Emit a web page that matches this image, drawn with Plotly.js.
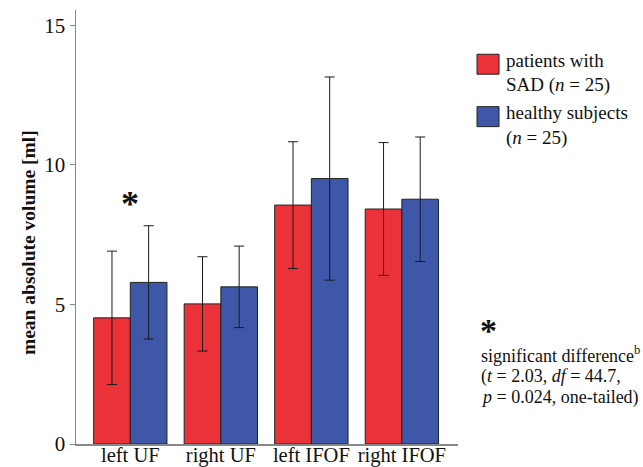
<!DOCTYPE html>
<html>
<head>
<meta charset="utf-8">
<script src="https://cdn.plot.ly/plotly-3.0.1.min.js"></script>
<style>html,body{margin:0;padding:0;background:#fff;}#chart{width:643px;height:467px;}</style>
</head>
<body>
<div id="chart"></div>
<script>
const categories = ["left UF", "right UF", "left IFOF", "right IFOF"];
const sadMeans = [4.52, 5.02, 8.56, 8.42];
const sadSD = [2.39, 1.69, 2.27, 2.38];
const healthyMeans = [5.79, 5.63, 9.51, 8.77];
const healthySD = [2.03, 1.46, 3.64, 2.23];
const seriesNames = ["patients with<br>SAD (<i>n</i> = 25)", "healthy subjects<br>(<i>n</i> = 25)"];
const yTicks = [0, 5, 10, 15];
const yTitle = "<b>mean absolute volume [ml]</b>";
const noteLines = ["significant difference<sup>b</sup>", "(<i>t</i> = 2.03, <i>df</i> = 44.7,", "<i>p</i> = 0.024, one-tailed)"];

const serif = "Liberation Serif";
const errStyle = {type: "data", visible: true, color: "#1a1a1a", thickness: 1, width: 5};

const traces = [
  {type: "bar", name: seriesNames[0], x: categories, y: sadMeans,
   error_y: Object.assign({array: sadSD}, errStyle),
   marker: {color: "#ec3239", line: {color: "#222", width: 1}}},
  {type: "bar", name: seriesNames[1], x: categories, y: healthyMeans,
   error_y: Object.assign({array: healthySD}, errStyle),
   marker: {color: "#3e57a8", line: {color: "#222", width: 1}}}
];

const PH = 433;
const annotations = [
  {xref: "paper", yref: "paper", x: (27 - 76) / 390, y: (444 - 243.5) / PH, xanchor: "center", yanchor: "middle",
   textangle: -90, text: yTitle, showarrow: false, font: {family: serif, size: 19.5, color: "#111"}},
  {xref: "x", yref: "y", x: 0, y: 8.6, text: "<b>*</b>", showarrow: false,
   font: {family: serif, size: 36, color: "#111"}},
  {xref: "paper", yref: "paper", x: 1.053, y: (444 - 351) / PH, xanchor: "left", text: "<b>*</b>",
   showarrow: false, font: {family: serif, size: 34, color: "#111"}}
];
const noteY = [355, 376.5, 398];
noteLines.forEach(function (t, i) {
  annotations.push({xref: "paper", yref: "paper", x: 1.0554, y: (444 - noteY[i]) / PH, xanchor: "left",
    yanchor: "middle", align: "left", showarrow: false, font: {family: serif, size: 18, color: "#111"}, text: t});
});

const layout = {
  width: 643, height: 467,
  margin: {l: 76, r: 177, t: 10, b: 23},
  paper_bgcolor: "#fff", plot_bgcolor: "#fff",
  font: {family: serif, color: "#111", size: 17},
  barmode: "group", bargap: 0.19, bargroupgap: 0,
  showlegend: true,
  legend: {x: 1.021, y: 0.93, xanchor: "left", yanchor: "top", valign: "top",
           font: {family: serif, size: 19, color: "#111"}, bgcolor: "rgba(0,0,0,0)"},
  xaxis: {range: [-0.6, 3.62], showline: true, linecolor: "#888", linewidth: 1.5,
          ticks: "", ticklabelstandoff: -8, tickfont: {family: serif, size: 20.5, color: "#111"},
          showgrid: false, zeroline: false, fixedrange: true},
  yaxis: {range: [0, 15.55], tickvals: yTicks, ticktext: yTicks.map(String), showline: true,
          linecolor: "#888", linewidth: 1.5, ticks: "outside", ticklen: 5, tickcolor: "#888",
          tickfont: {family: serif, size: 21, color: "#111"}, showgrid: false, zeroline: false},
  annotations: annotations
};

Plotly.newPlot("chart", traces, layout, {displayModeBar: false, staticPlot: true}).then(function (gd) {
  gd.querySelectorAll(".legendpoints path").forEach(function (p) {
    if ((p.getAttribute("d") || "").indexOf("M6,6H-6V-6H6Z") === 0) p.setAttribute("d", "M13,15H-9V-5H13Z");
  });
});
</script>
</body>
</html>
